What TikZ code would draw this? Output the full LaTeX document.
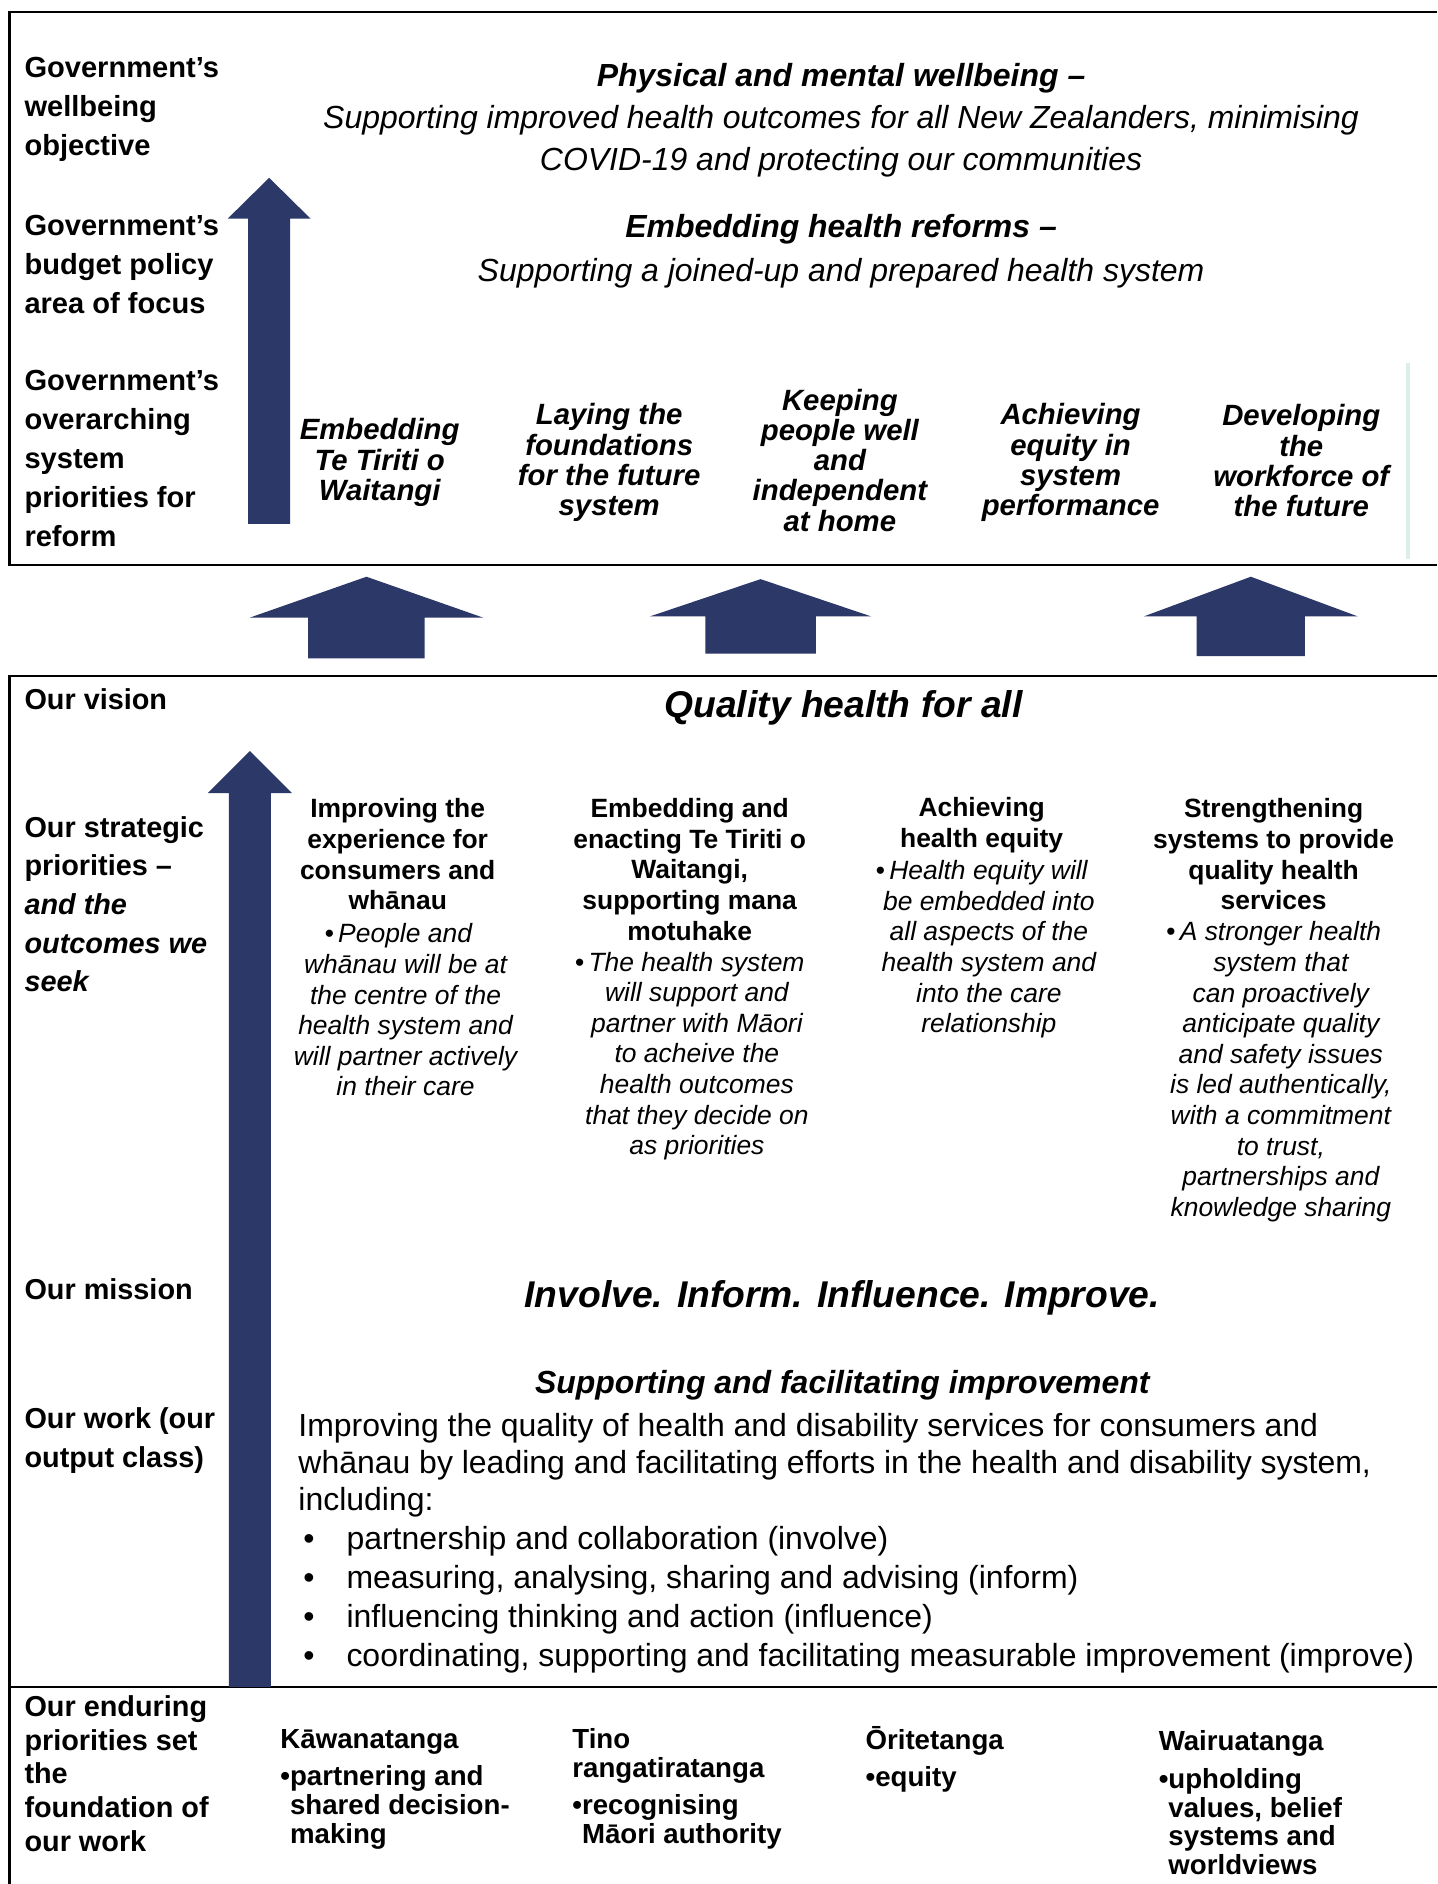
\documentclass[tikz,border=0pt]{standalone}
\usepackage{fontspec}
\setmainfont{Liberation Sans}
\definecolor{navy}{RGB}{43,56,104}
\definecolor{mint}{RGB}{221,238,233}
% block arrow pointing up: (x : tip : head base : foot)(head half width : shaft half width)
\def\blockarrow(#1:#2:#3:#4)(#5:#6){\fill[navy] (#1-#6,#4) -- (#1-#6,#3) -- (#1-#5,#3) -- (#1,#2) -- (#1+#5,#3) -- (#1+#6,#3) -- (#1+#6,#4) -- cycle;}
\newcommand{\blt}{\hspace*{-6pt}\textbullet\,}
\tikzset{
	lbl/.style={anchor=west, inner sep=0pt, align=left, font=\bfseries\fontsize{12.1}{16.25}\selectfont},
	lbltwo/.style={anchor=west, inner sep=0pt, align=left, font=\bfseries\fontsize{12}{16.1}\selectfont},
	goal/.style={inner sep=0pt, align=center, font=\itshape\fontsize{13.3}{17.5}\selectfont},
	prio/.style={inner sep=0pt, align=center, font=\bfseries\itshape\fontsize{12.2}{12.6}\selectfont},
	motto/.style={inner sep=0pt, font=\bfseries\itshape\fontsize{15.5}{18}\selectfont},
	sphead/.style={inner sep=0pt, align=center, font=\bfseries\fontsize{11}{12.75}\selectfont},
	spbody/.style={inner sep=0pt, align=center, font=\itshape\fontsize{11}{12.75}\selectfont},
	found/.style={anchor=west, inner sep=0pt, align=left, font=\bfseries\fontsize{11.5}{12}\selectfont}
}
\begin{document}
\begin{tikzpicture}[x=0.5pt, y=-0.5pt]
		%%%%% START %%%%%
		\useasboundingbox[fill=white] (0,0) rectangle (1196,1568);
		
		% frames
		\draw[line width=1pt] (1196,10) -- (8,10) -- (8,470) -- (1196,470);
		\draw[line width=1pt] (1196,562.6) -- (8,562.6) -- (8,1568);
		\draw[line width=1pt] (8,1404) -- (1196,1404);
		\draw[mint, line width=1.75pt] (1172,302) -- (1172,465);
		
		% arrows
		\blockarrow(224:148:182:436)(34.5:17.5)
		\blockarrow(305:480:514:548)(97:48.5)
		\blockarrow(633:482:513:544)(92:46)
		\blockarrow(1041:480:513:546)(89:45)
		\blockarrow(208:625:660:1404)(35:17.5)
		
		% government
		\node[lbl] (govwell) at (20,91) {Government’s\\wellbeing\\objective};
		\node[lbl] (govbudget) at (20,220) {Government’s\\budget policy\\area of focus};
		\node[lbl] (govsys) at (20,381.5) {Government’s\\overarching\\system\\priorities for\\reform};
		
		\node[goal] (physical) at (700,100) {\textbf{Physical and mental wellbeing –}\\Supporting improved health outcomes for all New Zealanders, minimising\\COVID-19 and protecting our communities};
		\node[goal, font=\itshape\fontsize{13.3}{18}\selectfont] (reforms) at (700,209) {\textbf{Embedding health reforms –}\\Supporting a joined-up and prepared health system};
		
		\node[prio] (pri1) at (316,385) {Embedding\\Te Tiriti o\\Waitangi};
		\node[prio] (pri2) at (507,385) {Laying the\\foundations\\for the future\\system};
		\node[prio] (pri3) at (699,383) {Keeping\\people well\\and\\independent\\at home};
		\node[prio] (pri4) at (891,385) {Achieving\\equity in\\system\\performance};
		\node[prio] (pri5) at (1083,383.5) {Developing\\the\\workforce of\\the future};
		
		% vision and strategy
		\node[lbltwo] (vision) at (20,582) {Our vision};
		\node[motto] (quality) at (702,589) {Quality health for all};
		\node[lbltwo] (strategic) at (20,752.5) {Our strategic\\priorities –\\\textit{and the}\\\textit{outcomes we}\\\textit{seek}};
		
		\node[sphead] (sp1) at (331,711) {Improving the\\experience for\\consumers and\\whānau};
		\node[spbody] (sp1b) at (337.5,840.5) {\blt People and\\whānau will be at\\the centre of the\\health system and\\will partner actively\\in their care};
		\node[sphead] (sp2) at (574,723.5) {Embedding and\\enacting Te Tiriti o\\Waitangi,\\supporting mana\\motuhake};
		\node[spbody] (sp2b) at (580,879) {\blt The health system\\will support and\\partner with Māori\\to acheive the\\health outcomes\\that they decide on\\as priorities};
		\node[sphead] (sp3) at (817,687) {Achieving\\health equity};
		\node[spbody] (sp3b) at (823,790) {\blt Health equity will\\be embedded into\\all aspects of the\\health system and\\into the care\\relationship};
		\node[sphead] (sp4) at (1060,711) {Strengthening\\systems to provide\\quality health\\services};
		\node[spbody] (sp4b) at (1066,892) {\blt A stronger health\\system that\\can proactively\\anticipate quality\\and safety issues\\is led authentically,\\with a commitment\\to trust,\\partnerships and\\knowledge sharing};
		
		% mission and work
		\node[lbltwo] (mission) at (20,1073) {Our mission};
		\node[motto] (involve) at (701,1080) {Involve. Inform. Influence. Improve.};
		\node[lbltwo] (work) at (20,1199) {Our work (our\\output class)};
		\node[goal, font=\bfseries\itshape\fontsize{13.3}{15.5}\selectfont] (worktitle) at (701,1153) {Supporting and facilitating improvement};
		\node[anchor=west, inner sep=0pt, align=left, font=\fontsize{13.3}{15.5}\selectfont] (workbody) at (248,1284.5) {Improving the quality of health and disability services for consumers and\\whānau by leading and facilitating efforts in the health and disability system,\\including:\\[0.75pt]
			\hspace*{2pt}\makebox[18pt][l]{\textbullet}partnership and collaboration (involve)\\[0.75pt]
			\hspace*{2pt}\makebox[18pt][l]{\textbullet}measuring, analysing, sharing and advising (inform)\\[0.75pt]
			\hspace*{2pt}\makebox[18pt][l]{\textbullet}influencing thinking and action (influence)\\[0.75pt]
			\hspace*{2pt}\makebox[18pt][l]{\textbullet}coordinating, supporting and facilitating measurable improvement (improve)};
		
		% foundations
		\node[lbltwo, font=\bfseries\fontsize{12}{14}\selectfont] (enduring) at (20,1476) {Our enduring\\priorities set\\the\\foundation of\\our work};
		\node[found] (kawa) at (233,1489) {Kāwanatanga\\[3.5pt]\textbullet partnering and\\\phantom{\textbullet}shared decision-\\\phantom{\textbullet}making};
		\node[found] (tino) at (476,1489) {Tino\\rangatiratanga\\[3.5pt]\textbullet recognising\\\phantom{\textbullet}Māori authority};
		\node[found] (ori) at (720,1464) {Ōritetanga\\[3.5pt]\textbullet equity};
		\node[found] (wairu) at (964,1500.5) {Wairuatanga\\[3.5pt]\textbullet upholding\\\phantom{\textbullet}values, belief\\\phantom{\textbullet}systems and\\\phantom{\textbullet}worldviews};
		
		%%%%% END %%%%%
\end{tikzpicture}
\end{document}
